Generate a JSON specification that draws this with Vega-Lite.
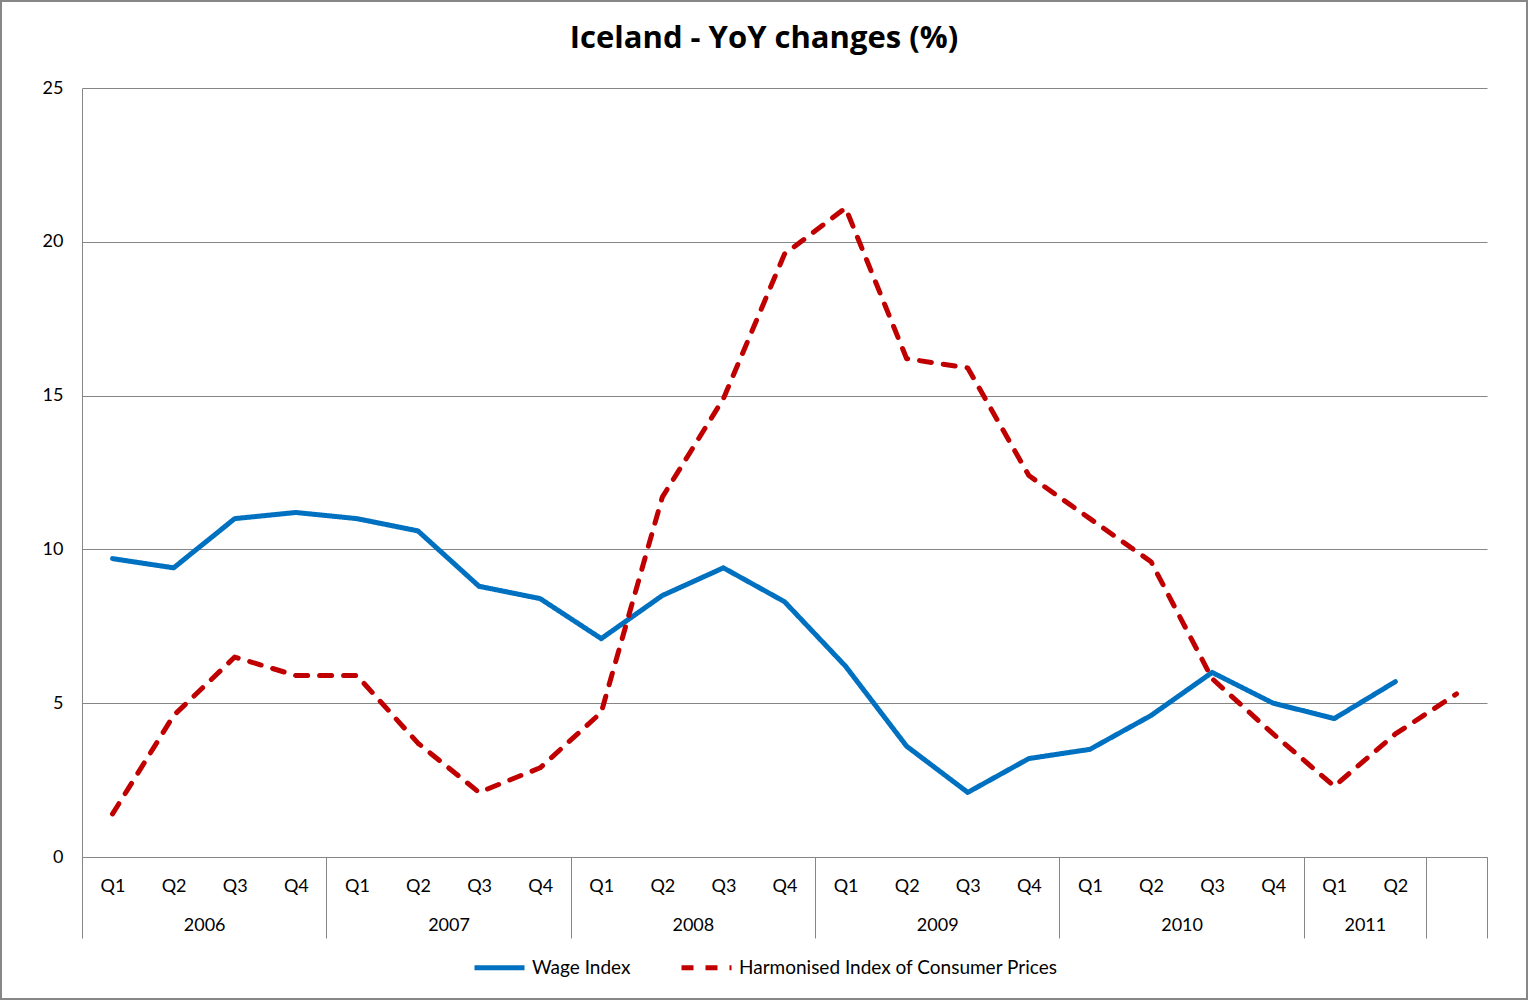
{
  "$schema": "https://vega.github.io/schema/vega-lite/v6.json",
  "width": 1528,
  "height": 1000,
  "autosize": {"type": "none"},
  "padding": 0,
  "background": "white",
  "title": {
    "text": "Iceland - YoY changes (%)",
    "font": "Open Sans",
    "fontSize": 31,
    "fontWeight": "bold",
    "color": "black",
    "anchor": "middle",
    "baseline": "alphabetic",
    "offset": -79
  },
  "data": {
    "values": [
      {"t": 0, "year": "2006", "quarter": "Q1", "series": "Wage Index", "value": 9.7},
      {"t": 1, "year": "2006", "quarter": "Q2", "series": "Wage Index", "value": 9.4},
      {"t": 2, "year": "2006", "quarter": "Q3", "series": "Wage Index", "value": 11.0},
      {"t": 3, "year": "2006", "quarter": "Q4", "series": "Wage Index", "value": 11.2},
      {"t": 4, "year": "2007", "quarter": "Q1", "series": "Wage Index", "value": 11.0},
      {"t": 5, "year": "2007", "quarter": "Q2", "series": "Wage Index", "value": 10.6},
      {"t": 6, "year": "2007", "quarter": "Q3", "series": "Wage Index", "value": 8.8},
      {"t": 7, "year": "2007", "quarter": "Q4", "series": "Wage Index", "value": 8.4},
      {"t": 8, "year": "2008", "quarter": "Q1", "series": "Wage Index", "value": 7.1},
      {"t": 9, "year": "2008", "quarter": "Q2", "series": "Wage Index", "value": 8.5},
      {"t": 10, "year": "2008", "quarter": "Q3", "series": "Wage Index", "value": 9.4},
      {"t": 11, "year": "2008", "quarter": "Q4", "series": "Wage Index", "value": 8.3},
      {"t": 12, "year": "2009", "quarter": "Q1", "series": "Wage Index", "value": 6.2},
      {"t": 13, "year": "2009", "quarter": "Q2", "series": "Wage Index", "value": 3.6},
      {"t": 14, "year": "2009", "quarter": "Q3", "series": "Wage Index", "value": 2.1},
      {"t": 15, "year": "2009", "quarter": "Q4", "series": "Wage Index", "value": 3.2},
      {"t": 16, "year": "2010", "quarter": "Q1", "series": "Wage Index", "value": 3.5},
      {"t": 17, "year": "2010", "quarter": "Q2", "series": "Wage Index", "value": 4.6},
      {"t": 18, "year": "2010", "quarter": "Q3", "series": "Wage Index", "value": 6.0},
      {"t": 19, "year": "2010", "quarter": "Q4", "series": "Wage Index", "value": 5.0},
      {"t": 20, "year": "2011", "quarter": "Q1", "series": "Wage Index", "value": 4.5},
      {"t": 21, "year": "2011", "quarter": "Q2", "series": "Wage Index", "value": 5.7},
      {"t": 0, "year": "2006", "quarter": "Q1", "series": "Harmonised Index of Consumer Prices", "value": 1.4},
      {"t": 1, "year": "2006", "quarter": "Q2", "series": "Harmonised Index of Consumer Prices", "value": 4.6},
      {"t": 2, "year": "2006", "quarter": "Q3", "series": "Harmonised Index of Consumer Prices", "value": 6.5},
      {"t": 3, "year": "2006", "quarter": "Q4", "series": "Harmonised Index of Consumer Prices", "value": 5.9},
      {"t": 4, "year": "2007", "quarter": "Q1", "series": "Harmonised Index of Consumer Prices", "value": 5.9},
      {"t": 5, "year": "2007", "quarter": "Q2", "series": "Harmonised Index of Consumer Prices", "value": 3.7},
      {"t": 6, "year": "2007", "quarter": "Q3", "series": "Harmonised Index of Consumer Prices", "value": 2.1},
      {"t": 7, "year": "2007", "quarter": "Q4", "series": "Harmonised Index of Consumer Prices", "value": 2.9},
      {"t": 8, "year": "2008", "quarter": "Q1", "series": "Harmonised Index of Consumer Prices", "value": 4.7},
      {"t": 9, "year": "2008", "quarter": "Q2", "series": "Harmonised Index of Consumer Prices", "value": 11.7},
      {"t": 10, "year": "2008", "quarter": "Q3", "series": "Harmonised Index of Consumer Prices", "value": 14.9},
      {"t": 11, "year": "2008", "quarter": "Q4", "series": "Harmonised Index of Consumer Prices", "value": 19.6},
      {"t": 12, "year": "2009", "quarter": "Q1", "series": "Harmonised Index of Consumer Prices", "value": 21.1},
      {"t": 13, "year": "2009", "quarter": "Q2", "series": "Harmonised Index of Consumer Prices", "value": 16.2},
      {"t": 14, "year": "2009", "quarter": "Q3", "series": "Harmonised Index of Consumer Prices", "value": 15.9},
      {"t": 15, "year": "2009", "quarter": "Q4", "series": "Harmonised Index of Consumer Prices", "value": 12.4},
      {"t": 16, "year": "2010", "quarter": "Q1", "series": "Harmonised Index of Consumer Prices", "value": 11.0},
      {"t": 17, "year": "2010", "quarter": "Q2", "series": "Harmonised Index of Consumer Prices", "value": 9.6},
      {"t": 18, "year": "2010", "quarter": "Q3", "series": "Harmonised Index of Consumer Prices", "value": 5.8},
      {"t": 19, "year": "2010", "quarter": "Q4", "series": "Harmonised Index of Consumer Prices", "value": 4.0},
      {"t": 20, "year": "2011", "quarter": "Q1", "series": "Harmonised Index of Consumer Prices", "value": 2.3},
      {"t": 21, "year": "2011", "quarter": "Q2", "series": "Harmonised Index of Consumer Prices", "value": 4.0},
      {"t": 22, "year": "", "quarter": "", "series": "Harmonised Index of Consumer Prices", "value": 5.3}
    ]
  },
  "mark": {"type": "line", "strokeWidth": 5, "strokeJoin": "round", "strokeCap": "round"},
  "encoding": {
    "x": {
      "field": "t",
      "type": "quantitative",
      "scale": {"domain": [-0.5, 22.5], "range": [82, 1487], "nice": false, "zero": false},
      "axis": {
        "title": null,
        "offset": -143,
        "values": [0, 1, 2, 3, 4, 5, 6, 7, 8, 9, 10, 11, 12, 13, 14, 15, 16, 17, 18, 19, 20, 21, -0.5, 3.5, 7.5, 11.5, 15.5, 19.5, 21.5, 22.5, 1.5, 5.5, 9.5, 13.5, 17.5, 20.5],
        "labelExpr": "indexof([1.5,5.5,9.5,13.5,17.5,20.5], datum.value) >= 0 ? ['2006','2007','2008','2009','2010','2011'][indexof([1.5,5.5,9.5,13.5,17.5,20.5], datum.value)] : (datum.value % 1 == 0 ? ['Q1','Q2','Q3','Q4'][datum.value % 4] : '')",
        "grid": false,
        "domain": true,
        "domainColor": "#868686",
        "domainWidth": 1,
        "ticks": true,
        "tickSize": 81,
        "tickWidth": 1,
        "tickColor": {"condition": {"test": "indexof([-0.5,3.5,7.5,11.5,15.5,19.5,21.5,22.5], datum.value) >= 0", "value": "#868686"}, "value": "transparent"},
        "labelPadding": {"condition": {"test": "indexof([1.5,5.5,9.5,13.5,17.5,20.5], datum.value) >= 0", "value": -8}, "value": -47},
        "labelBaseline": "alphabetic",
        "labelAlign": "center",
        "labelAngle": 0,
        "labelFont": "Lato",
        "labelFontSize": 18,
        "labelColor": "black",
        "labelOverlap": false,
        "labelFlush": false,
        "labelBound": false
      }
    },
    "y": {
      "field": "value",
      "type": "quantitative",
      "scale": {"domain": [0, 25], "range": [857, 88], "nice": false, "zero": true},
      "axis": {
        "title": null,
        "offset": -82,
        "values": [0, 5, 10, 15, 20, 25],
        "grid": true,
        "gridColor": "#868686",
        "gridWidth": 1,
        "domain": true,
        "domainColor": "#868686",
        "domainWidth": 1,
        "ticks": false,
        "labelPadding": 19,
        "labelFont": "Lato",
        "labelFontSize": 18,
        "labelColor": "black"
      }
    },
    "color": {
      "field": "series",
      "type": "nominal",
      "scale": {"domain": ["Wage Index", "Harmonised Index of Consumer Prices"], "range": ["#0070C0", "#C00000"]},
      "legend": {"orient": "none", "legendX": 472, "legendY": 940, "direction": "horizontal", "title": null, "symbolType": "stroke", "symbolSize": 2500, "symbolStrokeWidth": 5, "labelFont": "Lato", "labelFontSize": 19, "labelColor": "black", "labelOffset": 5, "labelLimit": 500, "columnPadding": 40}
    },
    "strokeDash": {
      "field": "series",
      "type": "nominal",
      "scale": {"domain": ["Wage Index", "Harmonised Index of Consumer Prices"], "range": [[1, 0], [12, 12]]},
      "legend": {"orient": "none", "legendX": 472, "legendY": 940, "direction": "horizontal", "title": null, "symbolType": "stroke", "symbolSize": 2500, "symbolStrokeWidth": 5, "labelFont": "Lato", "labelFontSize": 19, "labelColor": "black", "labelOffset": 5, "labelLimit": 500, "columnPadding": 40}
    }
  },
  "config": {
    "font": "Lato",
    "view": {"stroke": "#878787", "strokeWidth": 4, "fill": "white"}
  }
}
